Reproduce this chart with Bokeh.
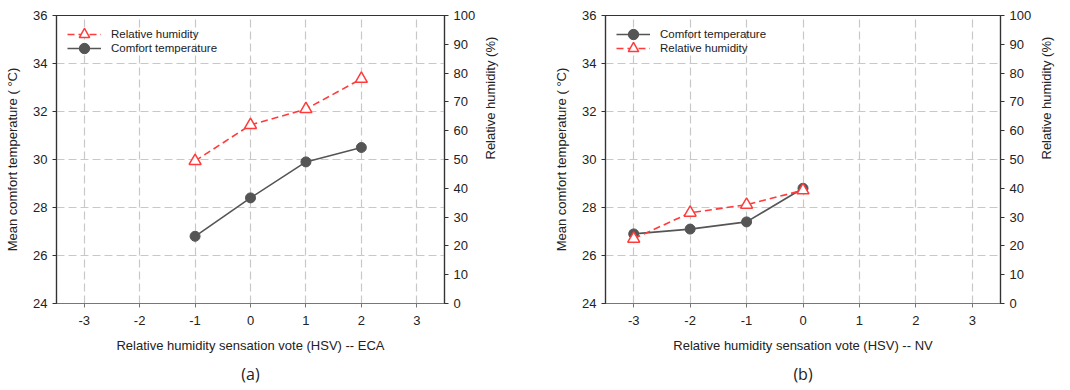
import math
from bokeh.plotting import figure
from bokeh.models import Range1d, LinearAxis, FixedTicker, Title, Legend, LegendItem
from bokeh.layouts import row
from bokeh.embed import file_html
from bokeh.resources import INLINE

# Panel (a): ECA buildings
hsv_eca = [-1, 0, 1, 2]
temp_eca = [26.8, 28.4, 29.9, 30.5]
rh_eca = [49.5, 62.0, 67.5, 78.0]

# Panel (b): NV buildings
hsv_nv = [-3, -2, -1, 0]
temp_nv = [26.9, 27.1, 27.4, 28.8]
rh_nv = [22.5, 31.5, 34.3, 39.3]

x_ticks = [-3, -2, -1, 0, 1, 2, 3]
x_tick_labels = ["-3", "-2", "-1", "0", "1", "2", "3"]
temp_ticks = [24, 26, 28, 30, 32, 34, 36]
rh_ticks = [0, 10, 20, 30, 40, 50, 60, 70, 80, 90, 100]

FONT = "Liberation Sans"
GRAY = "#555555"
RED = "#ff3b3b"
FRAME_H = 288


def legend_box(item, row_index):
    # one single-entry legend per row, so rows can sit closer than the glyph box
    glyph_h = 26
    top = 6 + 14 * row_index
    return Legend(items=[item], location=(11, FRAME_H - top - glyph_h),
                  background_fill_alpha=0, border_line_alpha=0,
                  label_text_font=FONT, label_text_font_size="11.5px",
                  label_text_color="#222222",
                  glyph_width=34, glyph_height=glyph_h, label_height=14,
                  label_standoff=10, spacing=0, padding=0, margin=0)


def panel(hsv, temp, rh, xlabel, tag, left_border, right_border, rh_first):
    p = figure(width=535, height=390, output_backend="svg", toolbar_location=None,
               x_range=Range1d(-3.5, 3.5), y_range=Range1d(24, 36),
               min_border_left=left_border, min_border_right=right_border,
               min_border_top=15, min_border_bottom=87)
    p.extra_y_ranges = {"rh": Range1d(0, 100)}
    p.outline_line_color = "#333333"
    p.outline_line_width = 1.2
    p.background_fill_color = "white"

    # grid
    p.xgrid.ticker = FixedTicker(ticks=x_ticks)
    p.ygrid.ticker = FixedTicker(ticks=temp_ticks)
    for g in (p.xgrid, p.ygrid):
        g.grid_line_color = "#c8c8c8"
        g.grid_line_dash = "8 4"
        g.grid_line_width = 1.2

    # bottom axis
    xa = p.xaxis[0]
    xa.ticker = FixedTicker(ticks=x_ticks)
    xa.major_label_overrides = {t: s for t, s in zip(x_ticks, x_tick_labels)}
    xa.axis_label = xlabel
    xa.axis_line_color = "#777777"
    xa.major_tick_line_color = "#777777"
    xa.major_tick_out = 4
    xa.major_tick_in = 0
    xa.minor_tick_line_color = None
    xa.major_label_standoff = 8
    xa.axis_label_standoff = 10

    # left axis
    ya = p.yaxis[0]
    ya.ticker = FixedTicker(ticks=temp_ticks)
    ya.axis_label = "Mean comfort temperature ( \u00b0C)"
    ya.axis_line_color = "#333333"
    ya.major_tick_line_color = "#333333"
    ya.major_tick_out = 4
    ya.major_tick_in = 0
    ya.minor_tick_line_color = None
    ya.major_label_standoff = 5
    ya.axis_label_standoff = 10

    # right axis (relative humidity), label reading bottom to top
    ra = LinearAxis(y_range_name="rh", axis_label="Relative humidity (%)")
    ra.ticker = FixedTicker(ticks=rh_ticks)
    ra.axis_label_orientation = math.pi / 2
    ra.axis_line_color = "#333333"
    ra.major_tick_line_color = "#333333"
    ra.major_tick_out = 4
    ra.major_tick_in = 0
    ra.minor_tick_line_color = None
    ra.major_label_standoff = 5
    ra.axis_label_standoff = 12
    p.add_layout(ra, "right")

    for ax in (xa, ya, ra):
        ax.major_label_text_font = FONT
        ax.major_label_text_font_size = "13px"
        ax.major_label_text_color = "#222222"
        ax.axis_label_text_font = FONT
        ax.axis_label_text_font_size = "13px"
        ax.axis_label_text_font_style = "normal"
        ax.axis_label_text_color = "#222222"
        ax.axis_line_width = 1.2

    # comfort temperature series
    t_line = p.line(hsv, temp, line_color=GRAY, line_width=1.6)
    t_pts = p.scatter(hsv, temp, marker="circle", size=10, fill_color=GRAY,
                      line_color=GRAY)

    # relative humidity series
    r_line = p.line(hsv, rh, y_range_name="rh", line_color=RED, line_width=1.6,
                    line_dash="7 4")
    r_pts = p.scatter(hsv, rh, y_range_name="rh", marker="triangle", size=12,
                      fill_color="white", line_color=RED, line_width=1.5)

    it_t = LegendItem(label="Comfort temperature", renderers=[t_line, t_pts])
    it_r = LegendItem(label="Relative humidity", renderers=[r_line, r_pts])
    items = [it_r, it_t] if rh_first else [it_t, it_r]
    for i, it in enumerate(items):
        p.add_layout(legend_box(it, i))

    p.add_layout(Title(text=tag, align="center", text_font="Open Sans",
                       text_font_size="16px", text_font_style="normal",
                       text_color="#222222", standoff=10), "below")
    return p


pa = panel(hsv_eca, temp_eca, rh_eca,
           "Relative humidity sensation vote (HSV) -- ECA", "(a)", 56, 91, True)
pb = panel(hsv_nv, temp_nv, rh_nv,
           "Relative humidity sensation vote (HSV) -- NV", "(b)", 70, 70, False)

layout = row(pa, pb)
open("out.html", "w").write(file_html(layout, INLINE))
